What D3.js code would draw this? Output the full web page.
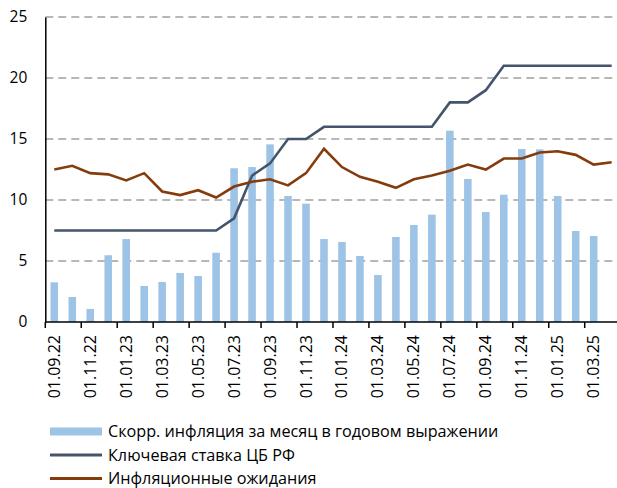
<!DOCTYPE html>
<html>
<head>
<meta charset="utf-8">
<script src="https://cdn.jsdelivr.net/npm/d3@7"></script>
<style>
  body { margin: 0; background: #fff; }
  svg text { font-family: "Open Sans", "Noto Sans", sans-serif; fill: #000; }
</style>
</head>
<body>
<div id="chart"></div>
<script>
var W = 617, H = 488;

// месяцы, с 01.09.22 по 01.04.25
var months = [
  '01.09.22','01.10.22','01.11.22','01.12.22','01.01.23','01.02.23','01.03.23','01.04.23',
  '01.05.23','01.06.23','01.07.23','01.08.23','01.09.23','01.10.23','01.11.23','01.12.23',
  '01.01.24','01.02.24','01.03.24','01.04.24','01.05.24','01.06.24','01.07.24','01.08.24',
  '01.09.24','01.10.24','01.11.24','01.12.24','01.01.25','01.02.25','01.03.25','01.04.25'
];

// скорр. инфляция (за апрель 25 значения нет)
var inflation = [
  3.25, 2.05, 1.07, 5.47, 6.8, 2.95, 3.28, 4.02, 3.77, 5.68, 12.6, 12.7, 14.56, 10.33, 9.7, 6.8,
  6.56, 5.41, 3.85, 6.97, 7.95, 8.8, 15.68, 11.72, 9.02, 10.43, 14.18, 14.15, 10.33, 7.46, 7.05, null
];

// ключевая ставка
var keyRate = [
  7.5, 7.5, 7.5, 7.5, 7.5, 7.5, 7.5, 7.5, 7.5, 7.5, 8.5, 12, 13, 15, 15, 16,
  16, 16, 16, 16, 16, 16, 18, 18, 19, 21, 21, 21, 21, 21, 21, 21
];

// инфляционные ожидания
var expectations = [
  12.5, 12.8, 12.2, 12.1, 11.6, 12.2, 10.7, 10.4, 10.8, 10.2, 11.1, 11.5, 11.7, 11.2, 12.2, 14.2,
  12.7, 11.9, 11.5, 11.0, 11.7, 12.0, 12.4, 12.9, 12.5, 13.4, 13.4, 13.9, 14.0, 13.7, 12.9, 13.1
];

var yTicks = [0, 5, 10, 15, 20, 25];

var legendItems = [
  {name: 'Скорр. инфляция за месяц в годовом выражении', type: 'bar', color: '#9dc3e6'},
  {name: 'Ключевая ставка ЦБ РФ', type: 'line', color: '#44546a'},
  {name: 'Инфляционные ожидания', type: 'line', color: '#843c0c'}
];

var plot = {left: 45.3, top: 17, bottom: 322};

var svg = d3.select('#chart').append('svg')
    .attr('width', W)
    .attr('height', H);

var x = d3.scaleBand()
    .domain(months)
    .range([plot.left, plot.left + 17.98 * months.length])
    .paddingInner(0.58)
    .paddingOuter(0.29);

var y = d3.scaleLinear()
    .domain([0, 25])
    .range([plot.bottom, plot.top]);

var step = x.step();
function cx(d) { return x(d) + x.bandwidth() / 2; }

// сетка
svg.append('g').selectAll('line')
    .data(yTicks.filter(function (t) { return t > 0; }))
    .enter().append('line')
    .attr('x1', plot.left)
    .attr('x2', W)
    .attr('y1', function (d) { return y(d); })
    .attr('y2', function (d) { return y(d); })
    .attr('stroke', '#a0a0a0')
    .attr('stroke-width', 1.5)
    .attr('stroke-dasharray', '8,5');

// столбики
svg.append('g').selectAll('rect')
    .data(months.filter(function (m, i) { return inflation[i] !== null; }))
    .enter().append('rect')
    .attr('x', function (d) { return x(d); })
    .attr('width', x.bandwidth())
    .attr('y', function (d) { return y(inflation[months.indexOf(d)]); })
    .attr('height', function (d) { return y(0) - y(inflation[months.indexOf(d)]); })
    .attr('fill', '#9dc3e6');

// линии
var line = d3.line()
    .x(function (d, i) { return cx(months[i]); })
    .y(function (d) { return y(d); });

svg.append('path').datum(keyRate)
    .attr('d', line)
    .attr('fill', 'none')
    .attr('stroke', '#44546a')
    .attr('stroke-width', 2.6);

svg.append('path').datum(expectations)
    .attr('d', line)
    .attr('fill', 'none')
    .attr('stroke', '#843c0c')
    .attr('stroke-width', 2.6);

// ось Y
var yAxis = d3.axisLeft(y).tickValues(yTicks).tickSize(0).tickPadding(18);
var gy = svg.append('g')
    .attr('transform', 'translate(' + plot.left + ',0)')
    .call(yAxis);
gy.select('.domain').attr('stroke', '#000').attr('stroke-width', 1.5);
gy.selectAll('text').style('font-size', '15.5px');

// ось X: засечки между категориями через одну
var tickMonths = months.filter(function (m, i) { return i % 2 === 0; });
var gx = svg.append('g')
    .attr('transform', 'translate(0,' + plot.bottom + ')');
gx.append('line')
    .attr('x1', plot.left)
    .attr('x2', W)
    .attr('stroke', '#000')
    .attr('stroke-width', 1.5);
gx.selectAll('line.tick')
    .data(tickMonths)
    .enter().append('line')
    .attr('class', 'tick')
    .attr('x1', function (d) { return x(d) - (step - x.bandwidth()) / 2; })
    .attr('x2', function (d) { return x(d) - (step - x.bandwidth()) / 2; })
    .attr('y1', 0)
    .attr('y2', 6)
    .attr('stroke', '#000')
    .attr('stroke-width', 1.5);
gx.selectAll('text')
    .data(tickMonths)
    .enter().append('text')
    .attr('transform', function (d) { return 'translate(' + (cx(d) + 5.5) + ',13) rotate(-90)'; })
    .attr('text-anchor', 'end')
    .style('font-size', '16px')
    .text(function (d) { return d; });

// легенда
var lg = svg.append('g');
legendItems.forEach(function (item, i) {
    var ly = 431.5 + i * 23.5;
    if (item.type === 'bar') {
        lg.append('rect')
            .attr('x', 50).attr('y', ly - 4)
            .attr('width', 52).attr('height', 8)
            .attr('fill', item.color);
    } else {
        lg.append('line')
            .attr('x1', 50).attr('x2', 102)
            .attr('y1', ly).attr('y2', ly)
            .attr('stroke', item.color)
            .attr('stroke-width', 2.8);
    }
    lg.append('text')
        .attr('x', 108).attr('y', ly + 5.5)
        .style('font-size', '16.2px')
        .text(item.name);
});
</script>
</body>
</html>
